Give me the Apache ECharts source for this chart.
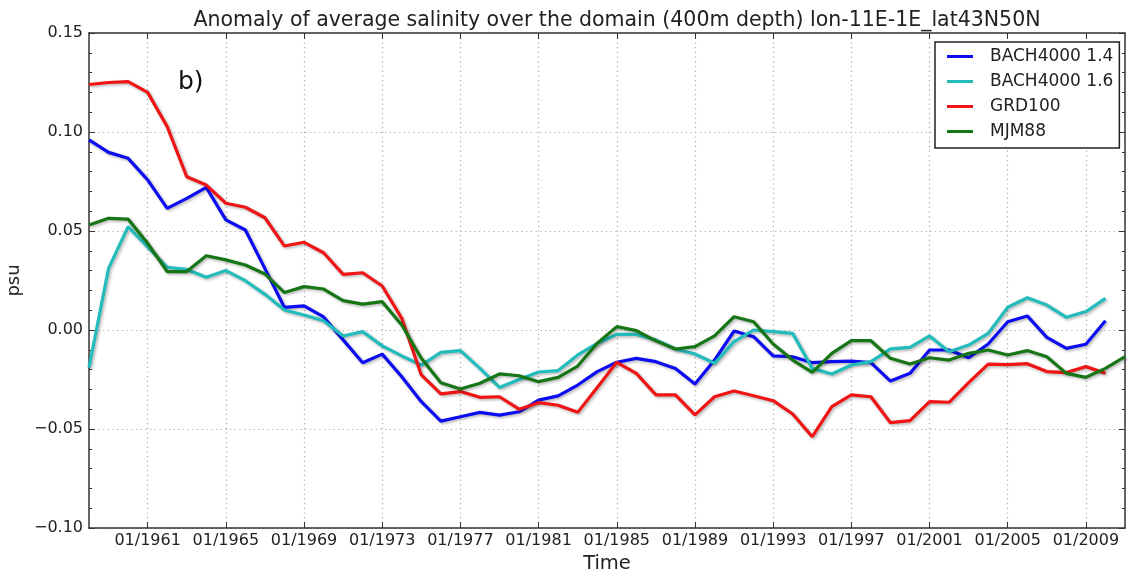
<!DOCTYPE html>
<html lang="en">
  <head>
    <meta charset="utf-8">
    <script src="https://cdn.jsdelivr.net/npm/echarts@6.0.0/dist/echarts.min.js"></script>
  </head>
  <body style="margin:0; background:#fff;">
    <div id="demo_chart" style="width:1130px;height:576px;"></div>
    <script>

      // Anni (un punto per anno, gennaio)
      const years = [];
      for (let y = 1958; y <= 2011; y++) years.push(y);

      // Etichette asse x
      const tickYears = [1961, 1965, 1969, 1973, 1977, 1981, 1985, 1989, 1993, 1997, 2001, 2005, 2009];

      // Serie (psu)
      const bach14 = [0.096, 0.0897, 0.0867, 0.0758, 0.0614, 0.0665, 0.072, 0.0556, 0.0505, 0.031,
        0.0114, 0.0122, 0.0066, -0.005, -0.0165, -0.0122, -0.0236, -0.0362, -0.046, -0.0438,
        -0.0416, -0.043, -0.0413, -0.0354, -0.0333, -0.0278, -0.021, -0.0163, -0.0143, -0.016,
        -0.0194, -0.0273, -0.0152, -0.0005, -0.0034, -0.0131, -0.0135, -0.0165, -0.016, -0.0157,
        -0.0165, -0.0258, -0.0219, -0.0101, -0.0101, -0.014, -0.0071, 0.0042, 0.0071, -0.0037,
        -0.0093, -0.0072, 0.0047];
      const bach16 = [-0.019, 0.0311, 0.0522, 0.042, 0.0317, 0.0306, 0.0266, 0.030, 0.0249, 0.018,
        0.0101, 0.0076, 0.0047, -0.003, -0.0008, -0.008, -0.0131, -0.0177, -0.0113, -0.0104,
        -0.0194, -0.029, -0.025, -0.0212, -0.0205, -0.0126, -0.0067, -0.0022, -0.0022, -0.005,
        -0.0096, -0.0121, -0.0168, -0.0059, 0.0, -0.0008, -0.0017, -0.0194, -0.0222, -0.0177,
        -0.016, -0.0095, -0.0088, -0.003, -0.011, -0.0076, -0.0017, 0.0115, 0.0163, 0.0126,
        0.0064, 0.0093, 0.016];
      const grd100 = [0.124, 0.125, 0.1254, 0.120, 0.1027, 0.0774, 0.0732, 0.064, 0.062, 0.0567,
        0.0424, 0.0443, 0.039, 0.0281, 0.0289, 0.0222, 0.0059, -0.0227, -0.0323, -0.0311,
        -0.034, -0.0337, -0.040, -0.0367, -0.038, -0.0416, -0.029, -0.0163, -0.0219, -0.0328,
        -0.0328, -0.0429, -0.0337, -0.0308, -0.0332, -0.0357, -0.0424, -0.0539, -0.0387, -0.0328,
        -0.0337, -0.0468, -0.0458, -0.0362, -0.0365, -0.0266, -0.0172, -0.0175, -0.017, -0.021,
        -0.0215, -0.0185, -0.0219];
      const mjm88 = [0.053, 0.0564, 0.056, 0.0438, 0.0295, 0.0295, 0.0375, 0.0354, 0.0328, 0.0283,
        0.0189, 0.0219, 0.0207, 0.0148, 0.0131, 0.0143, 0.0025, -0.0143, -0.0266, -0.0298,
        -0.0269, -0.0222, -0.0231, -0.0261, -0.0239, -0.0182, -0.0067, 0.0017, -0.0003, -0.0055,
        -0.0096, -0.0084, -0.003, 0.0067, 0.0042, -0.0071, -0.0152, -0.0214, -0.0118, -0.0054,
        -0.0054, -0.0143, -0.0172, -0.014, -0.0152, -0.0118, -0.0101, -0.0126, -0.0104, -0.0135,
        -0.0219, -0.0239, -0.0194, -0.0135];

      const seriesNames = ['BACH4000 1.4', 'BACH4000 1.6', 'GRD100', 'MJM88'];
      const seriesColors = ['#0c0cf2', '#22bcbc', '#f01414', '#167616'];
      const seriesValues = [bach14, bach16, grd100, mjm88];

      const FONT = 'DejaVu Sans';
      const FRAME = '#333';

      function pairs(vals) {
        return vals.map(function (v, i) { return [years[i], v]; });
      }

      function fmtY(v) {
        const s = Math.abs(v).toFixed(2);
        return v < -1e-9 ? '\u2212' + s : s;
      }

      var myChart = echarts.init(document.getElementById('demo_chart'));

      var option = {
        animation: false,
        backgroundColor: '#fff',
        title: {
          text: 'Anomaly of average salinity over the domain (400m depth) lon-11E-1E_lat43N50N',
          left: 612,
          top: 5,
          textAlign: 'center',
          textStyle: { fontFamily: FONT, fontSize: 20.5, fontWeight: 'normal', color: '#222' }
        },
        graphic: [{
          type: 'text', left: 178, top: 70,
          style: { text: 'b)', fontFamily: FONT, fontSize: 25, fill: '#111' }
        }],
        legend: {
          orient: 'vertical',
          left: 935,
          top: 42,
          padding: [6, 6, 8, 12],
          itemGap: 8,
          itemWidth: 26,
          itemHeight: 3,
          icon: 'rect',
          backgroundColor: '#fff',
          borderColor: '#222',
          borderWidth: 1.5,
          borderRadius: 0,
          textStyle: { fontFamily: FONT, fontSize: 17, color: '#222', lineHeight: 16, padding: [0, 0, 0, 12] },
          data: seriesNames
        },
        grid: { left: 89, right: 5, top: 33, bottom: 48, outerBoundsMode: 'none' },
        xAxis: [{
          type: 'value',
          position: 'bottom',
          min: 1958,
          max: 2011,
          name: 'Time',
          nameLocation: 'middle',
          nameGap: 21,
          nameTextStyle: { fontFamily: FONT, fontSize: 19.5, color: '#222' },
          axisLine: { show: true, onZero: false, lineStyle: { color: FRAME, width: 1.5 } },
          axisTick: { show: true, inside: true, length: 6, customValues: tickYears, lineStyle: { color: FRAME } },
          axisLabel: {
            customValues: tickYears,
            formatter: function (v) { return '01/' + v; },
            fontFamily: FONT, fontSize: 16, color: '#222', margin: 5
          },
          splitLine: { show: true, lineStyle: { color: '#aaa', width: 1.2, type: [1.2, 3.5] } }
        }, {
          type: 'value',
          position: 'top',
          min: 1958,
          max: 2011,
          axisLine: { show: true, onZero: false, lineStyle: { color: FRAME, width: 1.5 } },
          axisTick: { show: true, inside: true, length: 6, customValues: tickYears, lineStyle: { color: FRAME } },
          axisLabel: { show: false, customValues: tickYears },
          splitLine: { show: false }
        }],
        yAxis: [{
          type: 'value',
          position: 'left',
          min: -0.1,
          max: 0.15,
          interval: 0.05,
          name: 'psu',
          nameLocation: 'middle',
          nameGap: 60,
          nameTextStyle: { fontFamily: FONT, fontSize: 18, color: '#222' },
          axisLine: { show: true, onZero: false, lineStyle: { color: FRAME, width: 1.5 } },
          axisTick: { show: true, inside: true, length: 6, lineStyle: { color: FRAME } },
          minorTick: { show: true, splitNumber: 5, length: 3, lineStyle: { color: FRAME } },
          axisLabel: { formatter: fmtY, fontFamily: FONT, fontSize: 16, color: '#222', margin: 6 },
          splitLine: { show: true, lineStyle: { color: '#aaa', width: 1.2, type: [1.2, 3.5] } }
        }, {
          type: 'value',
          position: 'right',
          min: -0.1,
          max: 0.15,
          interval: 0.05,
          axisLine: { show: true, onZero: false, lineStyle: { color: FRAME, width: 1.5 } },
          axisTick: { show: true, inside: true, length: 6, lineStyle: { color: FRAME } },
          minorTick: { show: true, splitNumber: 5, length: 3, lineStyle: { color: FRAME } },
          axisLabel: { show: false },
          splitLine: { show: false }
        }],
        series: seriesNames.map(function (name, k) {
          return {
            name: name,
            type: 'line',
            xAxisIndex: 0,
            yAxisIndex: 0,
            symbol: 'none',
            data: pairs(seriesValues[k]),
            color: seriesColors[k],
            lineStyle: {
              width: 3.2,
              color: seriesColors[k],
              shadowColor: 'rgba(0,0,0,0.3)',
              shadowBlur: 3,
              shadowOffsetX: 1.5,
              shadowOffsetY: 1.5
            }
          };
        })
      };
      myChart.setOption(option);

    </script>
  </body>
</html>
